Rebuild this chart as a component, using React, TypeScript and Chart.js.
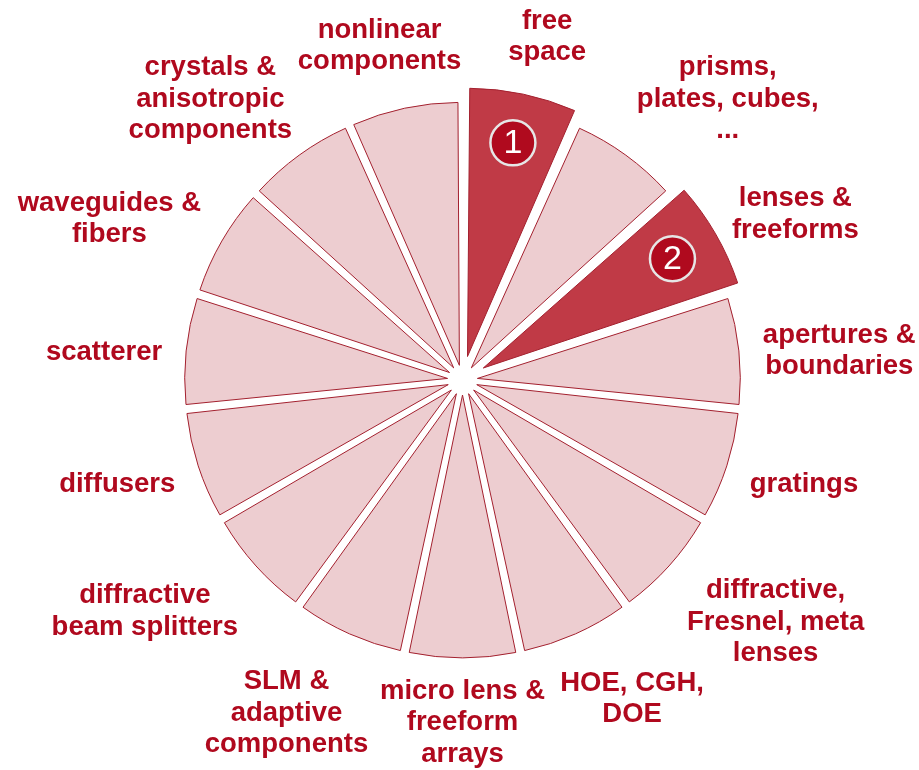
import React, { useEffect, useRef } from "react";
import { Chart, registerables } from "chart.js";

Chart.register(...registerables);

// Categories (label lines), clockwise from the top
const categories: string[][] = [
  ["free", "space"],
  ["prisms,", "plates, cubes,", "..."],
  ["lenses &", "freeforms"],
  ["apertures &", "boundaries"],
  ["gratings"],
  ["diffractive,", "Fresnel, meta", "lenses"],
  ["HOE, CGH,", "DOE"],
  ["micro lens &", "freeform", "arrays"],
  ["SLM &", "adaptive", "components"],
  ["diffractive", "beam splitters"],
  ["diffusers"],
  ["scatterer"],
  ["waveguides &", "fibers"],
  ["crystals &", "anisotropic", "components"],
  ["nonlinear", "components"],
];

// Equal-sized slices
const sliceValues: number[] = [1, 1, 1, 1, 1, 1, 1, 1, 1, 1, 1, 1, 1, 1, 1];

// Step numbers shown in highlighted slices (0 = none)
const stepNumbers: number[] = [1, 0, 2, 0, 0, 0, 0, 0, 0, 0, 0, 0, 0, 0, 0];

const HIGHLIGHT_FILL = "#c03a46";
const NORMAL_FILL = "#edcdd0";
const BORDER = "#a3202e";
const TEXT = "#b0091e";
const CIRCLE_FILL = "#b00a1e";
const LINE_H = 31.5;
const FONT = "bold 27.5px 'Liberation Sans', Arial, sans-serif";

const labelPlugin = {
  id: "outerLabels",
  afterDatasetsDraw(chart: any) {
    const ctx: CanvasRenderingContext2D = chart.ctx;
    const meta = chart.getDatasetMeta(0);
    meta.data.forEach((arc: any, i: number) => {
      const p = arc.getProps(["x", "y", "startAngle", "endAngle", "outerRadius"], true);
      const a = (p.startAngle + p.endAngle) / 2;
      const t = (arc.options.offset || 0) / 4;
      const dx = Math.cos(a);
      const dy = Math.sin(a);
      const cx = p.x + t * dx;
      const cy = p.y + t * dy;

      ctx.save();
      // step number circle
      if (stepNumbers[i]) {
        const rr = p.outerRadius * 0.86;
        const nx = cx + rr * dx;
        const ny = cy + rr * dy;
        ctx.beginPath();
        ctx.arc(nx, ny, 22.5, 0, Math.PI * 2);
        ctx.fillStyle = CIRCLE_FILL;
        ctx.fill();
        ctx.lineWidth = 2.5;
        ctx.strokeStyle = "#e6e6e6";
        ctx.stroke();
        ctx.fillStyle = "#ffffff";
        ctx.font = "34px 'Liberation Sans', Arial, sans-serif";
        ctx.textAlign = "center";
        ctx.textBaseline = "middle";
        ctx.fillText(String(stepNumbers[i]), nx, ny + 1);
      }

      // outer label
      const lines = categories[i];
      ctx.font = FONT;
      const w = Math.max(...lines.map((l) => ctx.measureText(l).width));
      const h = lines.length * LINE_H;
      const rl = p.outerRadius + 33;
      const ax = cx + rl * dx;
      const ay = cy + rl * dy;
      const gx = Math.sign(dx) * Math.min(1, 1.6 * Math.abs(dx));
      const up = Math.max(0, -dy);
      const down = Math.max(0, dy);
      const lx = ax + (w / 2) * gx + 8 * Math.pow(up, 6);
      let ly = ay + (h / 2) * dy + 6 - 16 * Math.pow(up, 6) + 12 * Math.pow(down, 4);
      ly = Math.min(ly, chart.height - h / 2);
      ctx.fillStyle = TEXT;
      ctx.textAlign = "center";
      ctx.textBaseline = "middle";
      lines.forEach((line, k) => {
        ctx.fillText(line, lx, ly + (k - (lines.length - 1) / 2) * LINE_H);
      });
      ctx.restore();
    });
  },
};

export default function App() {
  const canvasRef = useRef<HTMLCanvasElement | null>(null);

  useEffect(() => {
    if (!canvasRef.current) return;
    const chart = new Chart(canvasRef.current, {
      type: "pie",
      data: {
        labels: categories.map((c) => c.join(" ")),
        datasets: [
          {
            data: sliceValues,
            backgroundColor: stepNumbers.map((s) => (s ? HIGHLIGHT_FILL : NORMAL_FILL)),
            borderColor: BORDER,
            borderWidth: 1,
            offset: stepNumbers.map((s) => (s ? 96 : 60)),
          },
        ],
      },
      options: {
        responsive: false,
        animation: false,
        events: [],
        radius: 254,
        layout: { padding: { left: 6, bottom: 10 } },
        plugins: {
          legend: { display: false },
          tooltip: { enabled: false },
        },
      } as any,
      plugins: [labelPlugin],
    });
    return () => chart.destroy();
  }, []);

  return (
    <div style={{ position: "absolute", left: 0, top: 0, width: 919, height: 770, background: "#ffffff" }}>
      <canvas ref={canvasRef} width={919} height={770} />
    </div>
  );
}
